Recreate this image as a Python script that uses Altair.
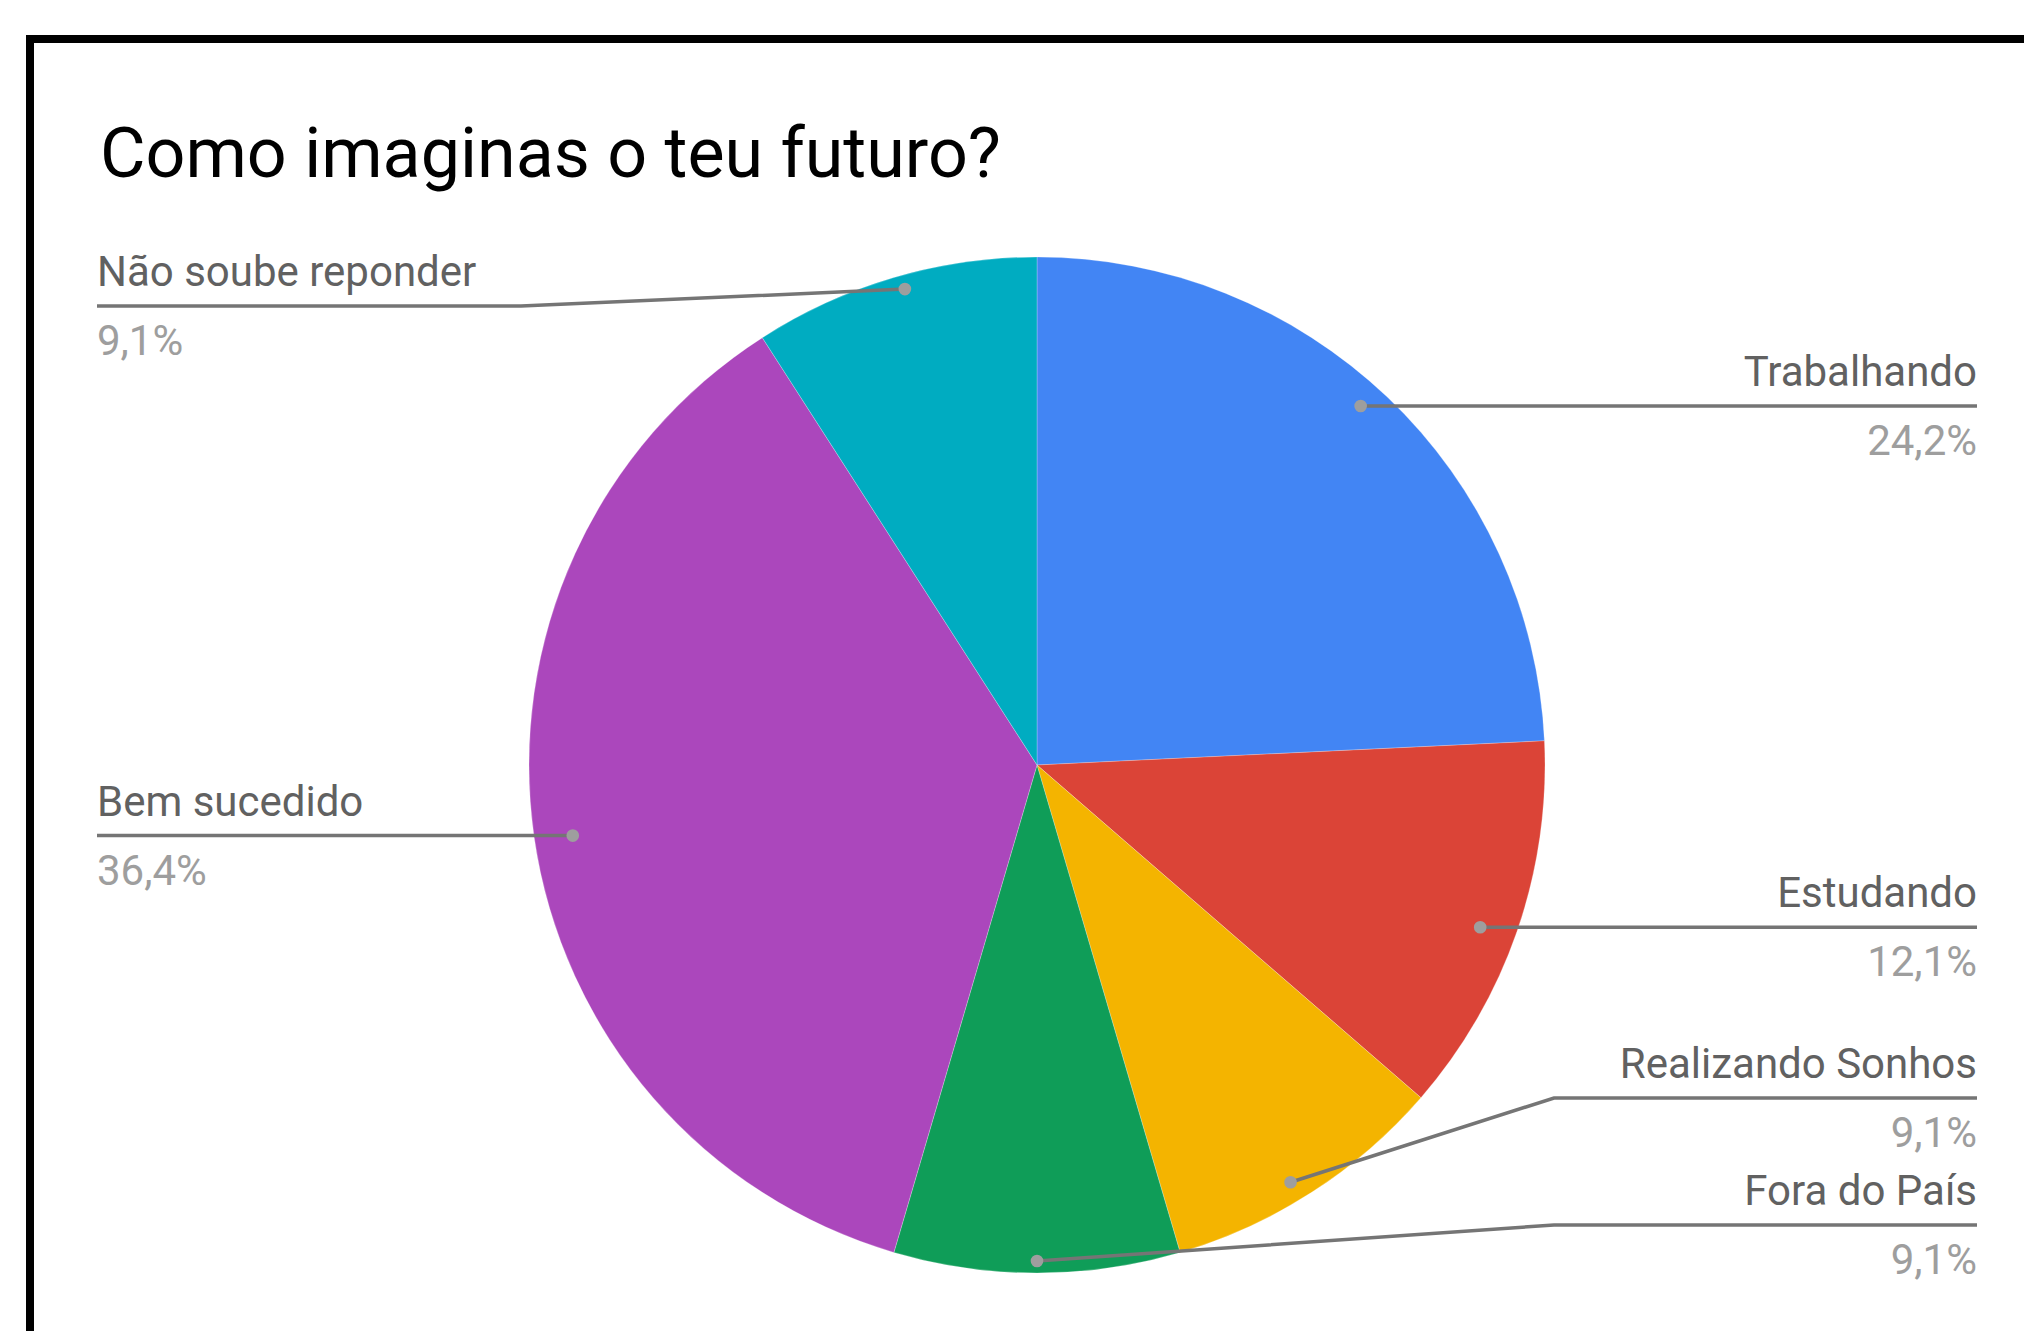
import math
import altair as alt
import pandas as pd

# ---------------- data ----------------
categories = ["Trabalhando", "Estudando", "Realizando Sonhos", "Fora do País",
              "Bem sucedido", "Não soube reponder"]
counts = [8, 4, 3, 3, 12, 3]
colors = ["#4285F4", "#DB4437", "#F4B400", "#0F9D58", "#AB47BC", "#00ACC1"]
title_text = "Como imaginas o teu futuro?"

# ---------------- layout (page pixels) ----------------
PAGE_W, PAGE_H, MARGIN = 2032, 1339, 8
W, H = PAGE_W - 2 * MARGIN, PAGE_H - 2 * MARGIN
CX, CY, R = 1037, 765, 508
DOT_RX, DOT_RY = 469, 496
label_align = ["right", "right", "right", "right", "left", "left"]
label_end_x = [1977, 1977, 1977, 1977, 97, 97]
label_bend_x = [None, None, 1554, 1554, None, 521]
label_line_y = [None, None, 1098, 1225, None, 306]
NAME_DY, PCT_DY = -20, 49
TITLE_X, TITLE_Y = 100, 177

total = sum(counts)

slices = pd.DataFrame({"category": categories, "value": counts,
                       "idx": list(range(len(categories)))})

dots, lines, texts = [], [], []
cum = 0
for i, (cat, v) in enumerate(zip(categories, counts)):
    mid = (cum + v / 2) / total * 2 * math.pi
    cum += v
    dx = CX + DOT_RX * math.sin(mid)
    dy = CY - DOT_RY * math.cos(mid)
    dots.append({"x": dx, "y": dy})
    ly = label_line_y[i] if label_line_y[i] is not None else dy
    pts = [(dx, dy)]
    if label_bend_x[i] is not None:
        pts.append((label_bend_x[i], ly))
    pts.append((label_end_x[i], ly))
    for k, (px, py) in enumerate(pts):
        lines.append({"cat": cat, "o": k, "x": px, "y": py})
    pct = f"{v / total * 100:.1f}".replace(".", ",") + "%"
    texts.append({"t": cat, "kind": "name", "align": label_align[i],
                  "x": label_end_x[i], "y": ly + NAME_DY})
    texts.append({"t": pct, "kind": "pct", "align": label_align[i],
                  "x": label_end_x[i], "y": ly + PCT_DY})

dots_df = pd.DataFrame(dots)
lines_df = pd.DataFrame(lines)
texts_df = pd.DataFrame(texts)
border_df = pd.DataFrame([
    {"x": 26, "x2": PAGE_W - MARGIN, "y": 39, "y2": 39},
    {"x": 30, "x2": 30, "y": 35, "y2": PAGE_H - MARGIN},
])
title_df = pd.DataFrame([{"t": title_text, "x": TITLE_X, "y": TITLE_Y}])

xs = alt.Scale(domain=[MARGIN, MARGIN + W], nice=False, zero=False)
ys = alt.Scale(domain=[MARGIN, MARGIN + H], nice=False, zero=False, reverse=True)
X = lambda f="x": alt.X(f"{f}:Q", scale=xs, axis=None)
Y = lambda f="y": alt.Y(f"{f}:Q", scale=ys, axis=None)

pie = alt.Chart(slices).mark_arc(outerRadius=R, stroke="#ffffff", strokeWidth=0.4, strokeOpacity=0.6).encode(
    theta=alt.Theta("value:Q", stack=True),
    order=alt.Order("idx:Q"),
    color=alt.Color("category:N", scale=alt.Scale(domain=categories, range=colors), legend=None),
    x=alt.value(CX - MARGIN),
    y=alt.value(CY - MARGIN),
)

border = alt.Chart(border_df).mark_rule(color="black", strokeWidth=8, strokeCap="butt").encode(
    x=X(), x2="x2:Q", y=Y(), y2="y2:Q")

leader = alt.Chart(lines_df).mark_line(color="#757575", strokeWidth=3.5).encode(
    x=X(), y=Y(), detail="cat:N", order="o:Q")

dot = alt.Chart(dots_df).mark_circle(color="#9e9e9e", opacity=1, size=160).encode(x=X(), y=Y())

def text_layer(align):
    return alt.Chart(texts_df).transform_filter(alt.datum.align == align).mark_text(
        align=align, baseline="alphabetic", font="Roboto", fontSize=42).encode(
        x=X(), y=Y(), text="t:N",
        color=alt.condition("datum.kind == 'name'", alt.value("#616161"), alt.value("#9e9e9e")))

title = alt.Chart(title_df).mark_text(align="left", baseline="alphabetic", font="Roboto",
                                      fontSize=70, color="#000000").encode(
    x=X(), y=Y(), text="t:N")

chart = alt.layer(border, pie, leader, dot, text_layer("left"), text_layer("right"), title).properties(
    width=W, height=H, padding=0,
    autosize=alt.AutoSizeParams(type="none"),
).configure_view(stroke=None)

chart.save("out.html", embed_options={"renderer": "svg", "actions": False})
